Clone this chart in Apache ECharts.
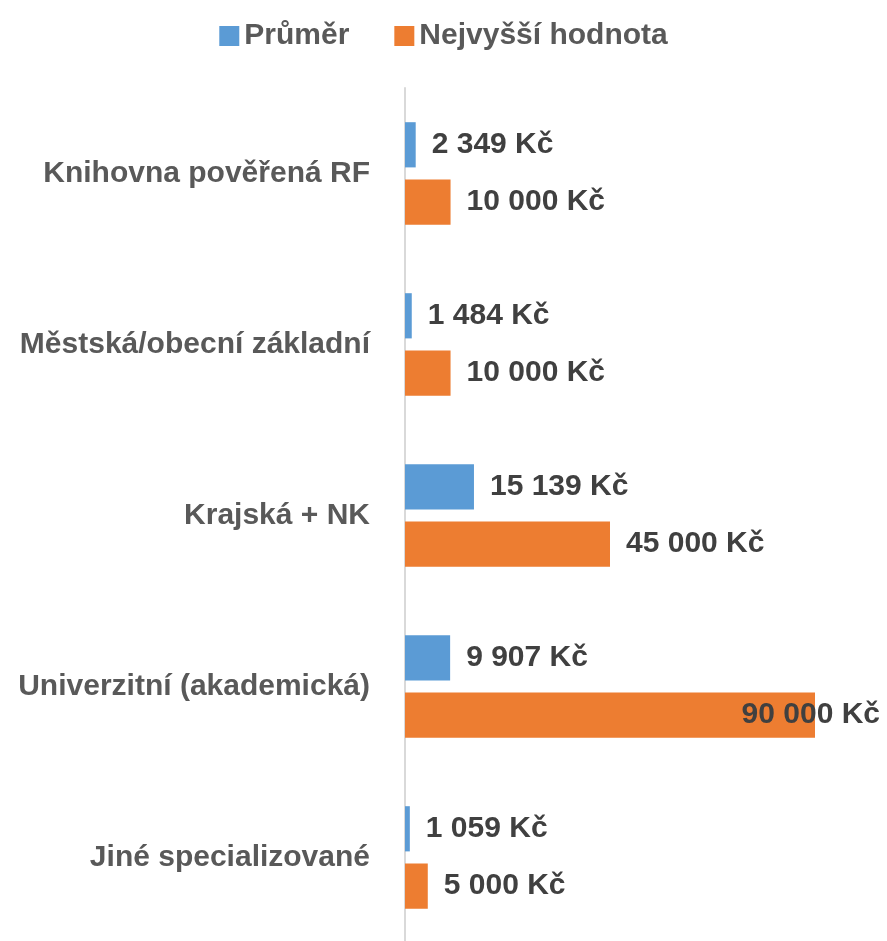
<!DOCTYPE html>
<html>
<head>
<meta charset="utf-8">
<script src="https://cdn.jsdelivr.net/npm/echarts@6/dist/echarts.min.js"></script>
<style>
  html, body { margin: 0; padding: 0; background: #fff; }
  #chart { width: 887px; height: 941px; }
</style>
</head>
<body>
<div id="chart"></div>
<script>
  // kategorie knihoven (shora dolů)
  const categories = [
    'Knihovna pověřená RF',
    'Městská/obecní základní',
    'Krajská + NK',
    'Univerzitní (akademická)',
    'Jiné specializované'
  ];
  const seriesNames = ['Průměr', 'Nejvyšší hodnota'];
  const avgValues = [2349, 1484, 15139, 9907, 1059];
  const maxValues = [10000, 10000, 45000, 90000, 5000];

  const font = '"Liberation Sans", Arial, sans-serif';

  function fmt(v) {
    return String(v).replace(/\B(?=(\d{3})+(?!\d))/g, ' ') + ' Kč';
  }

  const valueLabel = {
    show: true,
    position: 'right',
    distance: 16,
    fontFamily: font,
    fontWeight: 'bold',
    fontSize: 30,
    color: '#404040',
    formatter: p => fmt(p.value)
  };

  const chart = echarts.init(document.getElementById('chart'));
  chart.setOption({
    animation: false,
    color: ['#5b9bd5', '#ed7d31'],
    legend: {
      top: 16,
      left: 'center',
      itemWidth: 20,
      itemHeight: 20,
      itemGap: 45,
      icon: 'rect',
      textStyle: {
        fontFamily: font,
        fontWeight: 'bold',
        fontSize: 30,
        color: '#595959'
      }
    },
    grid: {
      left: 405,
      right: 72,
      top: 88,
      bottom: -2,
      outerBoundsMode: 'none',
      containLabel: false
    },
    xAxis: {
      type: 'value',
      min: 0,
      max: 90000,
      show: false
    },
    yAxis: {
      type: 'category',
      inverse: true,
      data: categories,
      axisLine: { lineStyle: { color: '#d9d9d9', width: 2 } },
      axisTick: { show: false },
      axisLabel: {
        margin: 35,
        fontFamily: font,
        fontWeight: 'bold',
        fontSize: 30,
        color: '#595959'
      }
    },
    series: [
      {
        name: seriesNames[0],
        type: 'bar',
        data: avgValues,
        barGap: '27%',
        barCategoryGap: '40%',
        label: valueLabel
      },
      {
        name: seriesNames[1],
        type: 'bar',
        // nejvyšší hodnota se do grafu nevejde, popisek jde částečně přes sloupec
        data: maxValues.map((v, i) =>
          v === Math.max(...maxValues)
            ? { value: v, label: { position: 'insideRight', offset: [81, 0] } }
            : v
        ),
        label: valueLabel
      }
    ]
  });
</script>
</body>
</html>
